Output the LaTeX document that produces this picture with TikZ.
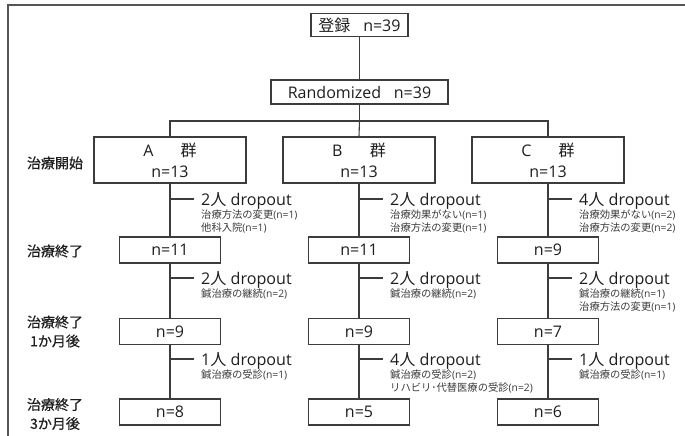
\documentclass[tikz,border=0pt]{standalone}
\usepackage{fontspec}
\setmainfont{Open Sans}
\newfontfamily\jpfont{Noto Sans CJK JP}
\newfontfamily\jpmedium[FakeBold=0.6]{Noto Sans CJK JP}
\newcommand\jp[1]{{\jpfont #1}}
\definecolor{linegray}{HTML}{3C3C3C}
\definecolor{framegray}{HTML}{555555}
\definecolor{textdark}{HTML}{1E1E1E}
\definecolor{notegray}{HTML}{3A3A3A}

% one dropout branch: tick off the column line, headline, reasons
\newcommand\dropnote[5]{%
  \coordinate (#1t) at (#2,#3);
  \coordinate (#1e) at (#2+24,#3);
  \draw[conn] (#1t) -- (#1e);
  \node[bigdrop, anchor=base west] (#1b) at (#2+31,#3+6) {#4};
  \node[smalldrop, anchor=north west] (#1s) at (#2+31,#3+11) {#5};
}

\begin{document}
\begin{tikzpicture}[x=1pt,y=-1pt,
  conn/.style={draw=linegray, line width=1.1pt},
  frame/.style={draw=framegray, line width=1.3pt},
  box/.style={draw=linegray, line width=1.1pt, fill=white, inner sep=0pt,
    text=textdark, align=center, font=\fontsize{16}{21}\selectfont},
  bigbox/.style={box, minimum width=152pt, minimum height=46pt},
  smallbox/.style={box, minimum width=101pt, minimum height=26pt},
  bigdrop/.style={inner sep=0pt, text=textdark, font=\fontsize{16.1}{18}\selectfont},
  smalldrop/.style={inner sep=0pt, text=notegray, align=left,
    font=\fontsize{10.3}{12.2}\selectfont},
  stage/.style={inner sep=0pt, text=textdark, align=center,
    font=\fontsize{14}{19}\selectfont\jpmedium}
]
\useasboundingbox (0,0) rectangle (685,436);

% outer frame (top and left edges only)
\draw[frame] (8,436) -- (8,5) -- (685,5);

% enrolment and randomisation
\node[box, minimum width=97pt, minimum height=23pt] (reg) at (359.5,25) {\jp{登録}\hspace{0.8em}n=39};
\node[box, minimum width=177pt, minimum height=24pt] (rand) at (359.5,92) {Randomized\hspace{0.8em}n=39};
\draw[conn] (reg) -- (rand);

% the three groups
\node[bigbox] (ga) at (170,160) {A\hspace{1.7em}\jp{群}\\n=13};
\node[bigbox] (gb) at (359,160) {B\hspace{1.7em}\jp{群}\\n=13};
\node[bigbox] (gc) at (548,160) {C\hspace{1.7em}\jp{群}\\n=13};

\coordinate (rail) at (359.5,121);
\draw[conn] (rand.south) -- (rail);
\draw[conn] (ga.north) |- (rail) -| (gc.north);
\draw[conn] (rail) -- (gb.north);

% follow-up boxes
\node[smallbox] (a1) at (170,250) {n=11};
\node[smallbox] (a2) at (170,331.5) {n=9};
\node[smallbox] (a3) at (170,412) {n=8};
\node[smallbox] (b1) at (359,250) {n=11};
\node[smallbox] (b2) at (359,331.5) {n=9};
\node[smallbox] (b3) at (359,412) {n=5};
\node[smallbox] (c1) at (548,250) {n=9};
\node[smallbox] (c2) at (548,331.5) {n=7};
\node[smallbox] (c3) at (548,412) {n=6};

\draw[conn] (ga) -- (a1); \draw[conn] (a1) -- (a2); \draw[conn] (a2) -- (a3);
\draw[conn] (gb) -- (b1); \draw[conn] (b1) -- (b2); \draw[conn] (b2) -- (b3);
\draw[conn] (gc) -- (c1); \draw[conn] (c1) -- (c2); \draw[conn] (c2) -- (c3);

% dropouts, group A
\dropnote{da1}{170}{199}{2\jp{人} dropout}{\jp{治療方法の変更}(n=1)\\\jp{他科入院}(n=1)}
\dropnote{da2}{170}{278}{2\jp{人} dropout}{\jp{鍼治療の継続}(n=2)}
\dropnote{da3}{170}{359}{1\jp{人} dropout}{\jp{鍼治療の受診}(n=1)}
% dropouts, group B
\dropnote{db1}{359}{199}{2\jp{人} dropout}{\jp{治療効果がない}(n=1)\\\jp{治療方法の変更}(n=1)}
\dropnote{db2}{359}{278}{2\jp{人} dropout}{\jp{鍼治療の継続}(n=2)}
\dropnote{db3}{359}{359}{4\jp{人} dropout}{\jp{鍼治療の受診}(n=2)\\\jp{リハビリ･代替医療の受診}(n=2)}
% dropouts, group C
\dropnote{dc1}{548}{199}{4\jp{人} dropout}{\jp{治療効果がない}(n=2)\\\jp{治療方法の変更}(n=2)}
\dropnote{dc2}{548}{278}{2\jp{人} dropout}{\jp{鍼治療の継続}(n=1)\\\jp{治療方法の変更}(n=1)}
\dropnote{dc3}{548}{359}{1\jp{人} dropout}{\jp{鍼治療の受診}(n=1)}

% stage labels on the left
\node[stage] (s0) at (55,163) {治療開始};
\node[stage] (s1) at (55,251) {治療終了};
\node[stage] (s2) at (55,331.5) {治療終了\\1か月後};
\node[stage] (s3) at (55,414) {治療終了\\3か月後};
\end{tikzpicture}
\end{document}
